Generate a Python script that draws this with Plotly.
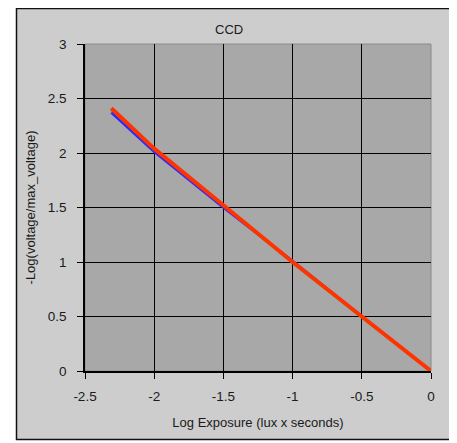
import plotly.graph_objects as go

# Data
x_red = [-2.31, -2.0, -1.5, -1.0, -0.5, 0.0]
y_red = [2.41, 2.04, 1.52, 1.0, 0.5, 0.0]
x_blue = [-2.31, -2.0, -1.5, -1.0, -0.5, 0.0]
y_blue = [2.37, 2.01, 1.5, 1.01, 0.5, 0.0]
x_green = [-2.31, -2.0, -1.5, -1.0, -0.5, 0.0]
y_green = [2.39, 2.02, 1.51, 0.99, 0.49, 0.0]

x_ticks = [-2.5, -2, -1.5, -1, -0.5, 0]
x_tick_text = ["-2.5", "-2", "-1.5", "-1", "-0.5", "0"]
y_ticks = [0, 0.5, 1, 1.5, 2, 2.5, 3]
y_tick_text = ["0", "0.5", "1", "1.5", "2", "2.5", "3"]
x_grid = [-2, -1.5, -1, -0.5]
y_grid = [0.5, 1, 1.5, 2, 2.5]

OFF = 8  # page body margin
W, H = 457 - OFF, 443 - OFF
L, R, T, B = 85 - OFF, 431 - OFF, 44 - OFF, 371 - OFF  # plot area pixel box

FONT = "Liberation Sans, Arial, sans-serif"
TXT = "#1a1a1a"

fig = go.Figure()
fig.add_trace(go.Scatter(x=x_green, y=y_green, mode="lines",
                         line=dict(color="#33cc33", width=2), showlegend=False))
fig.add_trace(go.Scatter(x=x_blue, y=y_blue, mode="lines",
                         line=dict(color="#2a2aff", width=2.5), showlegend=False))
fig.add_trace(go.Scatter(x=x_red, y=y_red, mode="lines",
                         line=dict(color="#ff3300", width=4), showlegend=False))

pw, ph = R - L, B - T
def px(xp):
    return (xp - OFF - L) / pw
def py(yp):
    return (B - (yp - OFF)) / ph

shapes = [
    # outer chart frame
    dict(type="rect", xref="paper", yref="paper", layer="below",
         x0=px(16.5), x1=px(451.5), y0=py(439.5), y1=py(8.5),
         fillcolor="#cdcdcd", line=dict(color="#111111", width=1.5)),
    # plot area
    dict(type="rect", xref="paper", yref="paper", layer="below",
         x0=0, x1=1, y0=0, y1=1,
         fillcolor="#a8a8a8", line=dict(color="#8a8a8a", width=1)),
]

fig.update_layout(
    width=W, height=H,
    margin=dict(l=L, r=W - R, t=T, b=H - B, pad=0),
    paper_bgcolor="white",
    plot_bgcolor="rgba(0,0,0,0)",
    font=dict(family=FONT, size=13, color=TXT),
    shapes=shapes,
    annotations=[dict(text="CCD", xref="paper", yref="paper",
                      x=px(229), y=py(29), xanchor="center", yanchor="middle",
                      showarrow=False, font=dict(family=FONT, size=13, color=TXT))],
)

fig.update_xaxes(
    range=[-2.5, 0], tickvals=x_ticks, ticktext=x_tick_text,
    showgrid=False, zeroline=False, showline=True, linecolor="black", linewidth=1.5,
    ticks="outside", ticklen=6, tickcolor="black", tickwidth=1,
    ticklabelstandoff=6,
    tickfont=dict(family=FONT, size=13.5, color=TXT),
    title=dict(text="Log Exposure (lux x seconds)", standoff=15,
               font=dict(family=FONT, size=13, color=TXT)),
    minor=dict(tickvals=x_grid, showgrid=True, gridcolor="black", gridwidth=1, ticks=""),
)
fig.update_yaxes(
    range=[0, 3], tickvals=y_ticks, ticktext=y_tick_text,
    showgrid=False, zeroline=False, showline=True, linecolor="black", linewidth=1.5,
    ticks="outside", ticklen=6, tickcolor="black", tickwidth=1,
    ticklabelstandoff=8,
    tickfont=dict(family=FONT, size=13.5, color=TXT),
    title=dict(text="-Log(voltage/max_voltage)", standoff=9,
               font=dict(family=FONT, size=13, color=TXT)),
    minor=dict(tickvals=y_grid, showgrid=True, gridcolor="black", gridwidth=1, ticks=""),
)

fig.write_html("out.html")
